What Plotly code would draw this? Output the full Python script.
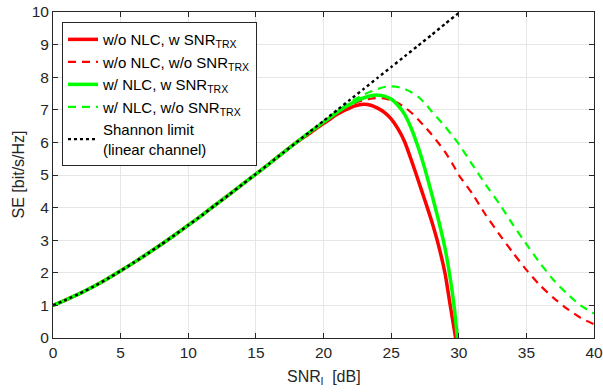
import plotly.graph_objects as go

# Shared low-SNR part (all curves coincide with the Shannon limit), x = 0..18 dB
snr_low = list(range(0, 19))
se_low = [1.00, 1.18, 1.37, 1.58, 1.81, 2.06, 2.32, 2.59, 2.87, 3.16,
          3.46, 3.76, 4.08, 4.39, 4.71, 5.03, 5.35, 5.68, 6.00]

# Shannon limit tail
shannon_x = [19, 20, 21, 22, 23, 24, 25, 26, 27, 28, 29, 30, 30.1]
shannon_y = [6.33, 6.66, 6.99, 7.32, 7.65, 7.98, 8.31, 8.64, 8.97, 9.30, 9.64, 9.97, 10.0]

# w/o NLC, w SNR_TRX (red solid)
r_solid_x = [19, 19.5, 20, 20.5, 21, 21.5, 22, 22.5, 23, 23.5, 24, 24.5, 25, 25.5, 26, 26.5,
             27, 27.5, 28, 28.5, 29, 29.35, 29.77]
r_solid_y = [6.29, 6.44, 6.58, 6.72, 6.86, 6.97, 7.07, 7.14, 7.17, 7.14, 7.05, 6.92, 6.72, 6.42,
             6.02, 5.45, 4.84, 4.22, 3.58, 2.85, 1.95, 1.05, 0.00]

# w/o NLC, w/o SNR_TRX (red dashed)
r_dash_x = [19, 19.5, 20, 20.5, 21, 21.5, 22, 22.5, 23, 23.5, 24, 24.5, 25, 25.5, 26, 26.5,
            27, 27.5, 28, 28.5, 29, 29.5, 30, 31, 32, 33, 34, 35, 36, 37, 38, 39, 40]
r_dash_y = [6.31, 6.47, 6.62, 6.77, 6.92, 7.04, 7.15, 7.24, 7.30, 7.34, 7.36, 7.35, 7.30, 7.21,
            7.08, 6.91, 6.70, 6.48, 6.24, 5.98, 5.70, 5.37, 5.00, 4.43, 3.77, 3.18, 2.62, 2.09,
            1.62, 1.23, 0.90, 0.62, 0.42]

# w/ NLC, w SNR_TRX (green solid)
g_solid_x = [19, 19.5, 20, 20.5, 21, 21.5, 22, 22.5, 23, 23.5, 24, 24.5, 25, 25.5, 26, 26.5,
             27, 27.5, 28, 28.5, 29, 29.25, 29.5, 29.7, 29.9]
g_solid_y = [6.32, 6.47, 6.62, 6.77, 6.92, 7.06, 7.18, 7.29, 7.37, 7.43, 7.45, 7.42, 7.33, 7.14,
             6.86, 6.42, 5.85, 5.18, 4.42, 3.62, 2.72, 2.14, 1.47, 0.82, 0.00]

# w/ NLC, w/o SNR_TRX (green dashed)
g_dash_x = [19, 19.5, 20, 20.5, 21, 21.5, 22, 22.5, 23, 23.5, 24, 24.5, 25, 25.5, 26, 26.5,
            27, 27.5, 28, 28.5, 29, 29.5, 30, 31, 32, 33, 34, 35, 36, 37, 38, 39, 40]
g_dash_y = [6.32, 6.48, 6.64, 6.80, 6.96, 7.10, 7.24, 7.36, 7.47, 7.56, 7.64, 7.70, 7.72, 7.70,
            7.64, 7.54, 7.40, 7.20, 6.95, 6.72, 6.48, 6.22, 5.95, 5.32, 4.70, 4.12, 3.48, 2.88,
            2.30, 1.78, 1.36, 1.00, 0.75]

x_ticks = [0, 5, 10, 15, 20, 25, 30, 35, 40]
y_ticks = [0, 1, 2, 3, 4, 5, 6, 7, 8, 9, 10]

FONT = "Liberation Sans, Arial, sans-serif"
TXT = "#262626"

fig = go.Figure()

def add(xs, ys, name, color, width, dash):
    fig.add_trace(go.Scatter(
        x=snr_low + xs, y=se_low + ys, mode="lines", name=name,
        line=dict(color=color, width=width, dash=dash, shape="spline", smoothing=0.5),
    ))

add(r_solid_x, r_solid_y, "w/o NLC, w SNR<sub>TRX</sub>", "#ff0000", 3.5, "solid")
add(r_dash_x, r_dash_y, "w/o NLC, w/o SNR<sub>TRX</sub>", "#ff0000", 2.2, "8px,6px")
add(g_solid_x, g_solid_y, "w/ NLC, w SNR<sub>TRX</sub>", "#00ff00", 3.5, "solid")
add(g_dash_x, g_dash_y, "w/ NLC, w/o SNR<sub>TRX</sub>", "#00ff00", 2.2, "8px,6px")
add(shannon_x, shannon_y, "Shannon limit<br>(linear channel)", "#000000", 2.4, "dot")

axis_common = dict(
    showline=True, linecolor=TXT, linewidth=1, mirror="ticks",
    ticks="inside", ticklen=5, tickcolor=TXT, automargin=False,
    showgrid=True, gridcolor="#e6e6e6", gridwidth=1,
    zeroline=False, tickfont=dict(family=FONT, size=15.5, color=TXT),
)

fig.update_layout(
    width=603, height=392,
    margin=dict(l=53, r=9, t=12, b=54, autoexpand=False),
    paper_bgcolor="white", plot_bgcolor="white",
    font=dict(family=FONT, size=15, color=TXT),
    xaxis=dict(range=[0, 40], tickvals=x_ticks, **axis_common),
    yaxis=dict(range=[0, 10], tickvals=y_ticks, **axis_common),
    legend=dict(x=0.0166, y=0.969, xanchor="left", yanchor="top",
                bgcolor="white", bordercolor=TXT, borderwidth=1,
                font=dict(family=FONT, size=15, color="#000000"),
                tracegroupgap=0, itemwidth=30),
    showlegend=True,
    annotations=[
        dict(text="SNR<sub>l</sub>  [dB]", xref="paper", yref="paper", x=0.5, y=0,
             xanchor="center", yanchor="top", yshift=-28, showarrow=False,
             font=dict(family=FONT, size=16, color=TXT)),
        dict(text="SE [bit/s/Hz]", xref="paper", yref="paper", x=0, y=0.5,
             xanchor="right", yanchor="middle", xshift=-25, textangle=-90, showarrow=False,
             font=dict(family=FONT, size=16, color=TXT)),
    ],
)

fig.write_html("out.html")
